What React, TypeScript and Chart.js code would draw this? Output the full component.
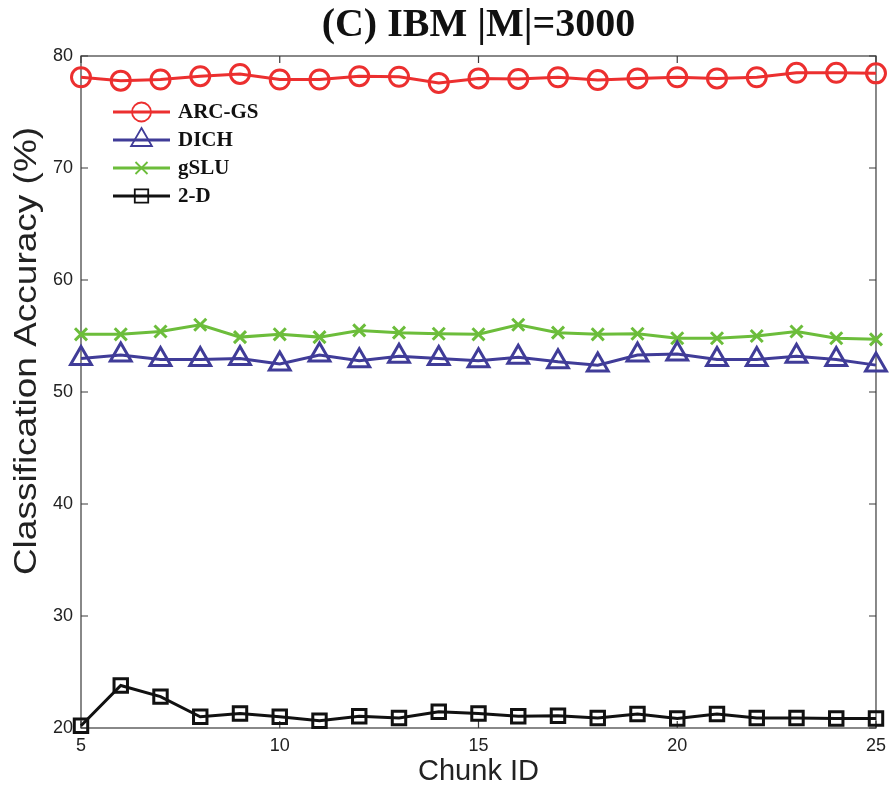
import React, { useEffect, useRef } from "react";
import { Chart, registerables } from "chart.js";
import { drawPoint } from "chart.js/helpers";

Chart.register(...registerables);

const TITLE = "(C) IBM |M|=3000";
const X_TITLE = "Chunk ID";
const Y_TITLE = "Classification Accuracy (%)";

const chunkIds = [5, 6, 7, 8, 9, 10, 11, 12, 13, 14, 15, 16, 17, 18, 19, 20, 21, 22, 23, 24, 25];
const xTicks = [5, 10, 15, 20, 25];
const yTicks = [20, 30, 40, 50, 60, 70, 80];

const arcGs = [78.1, 77.8, 77.9, 78.2, 78.4, 77.9, 77.9, 78.2, 78.15, 77.6, 78.0, 77.95, 78.1, 77.85, 78.0, 78.1, 78.0, 78.1, 78.5, 78.5, 78.45];
const dich = [53.0, 53.3, 52.9, 52.9, 53.0, 52.5, 53.3, 52.8, 53.2, 53.0, 52.8, 53.1, 52.7, 52.4, 53.3, 53.4, 52.9, 52.9, 53.2, 52.9, 52.4];
const gslu = [55.15, 55.15, 55.4, 56.0, 54.9, 55.15, 54.9, 55.5, 55.3, 55.2, 55.15, 56.0, 55.3, 55.15, 55.2, 54.8, 54.8, 55.0, 55.4, 54.8, 54.7];
const twoD = [20.2, 23.8, 22.8, 21.0, 21.3, 21.0, 20.65, 21.05, 20.9, 21.45, 21.3, 21.05, 21.1, 20.9, 21.25, 20.85, 21.25, 20.9, 20.9, 20.85, 20.85];

const seriesNames = ["ARC-GS", "DICH", "gSLU", "2-D"];
const seriesColors = ["#ec2f2f", "#403c98", "#6cbd3b", "#111111"];
const seriesStyles = ["circle", "triangle", "crossRot", "rect"];
const seriesRadius = [9.5, 12, 8.5, 9.5];
const seriesValues = [arcGs, dich, gslu, twoD];

const frame = {
  id: "frame",
  beforeDatasetsDraw(chart: any) {
    const { ctx, chartArea } = chart;
    const xs = chart.scales.x;
    const ys = chart.scales.y;
    ctx.save();
    ctx.strokeStyle = "#3a3a3a";
    ctx.lineWidth = 1.2;
    ctx.strokeRect(chartArea.left, chartArea.top, chartArea.right - chartArea.left, chartArea.bottom - chartArea.top);
    const L = 7;
    ctx.beginPath();
    xTicks.forEach((v) => {
      const px = xs.getPixelForValue(v);
      ctx.moveTo(px, chartArea.bottom);
      ctx.lineTo(px, chartArea.bottom - L);
      ctx.moveTo(px, chartArea.top);
      ctx.lineTo(px, chartArea.top + L);
    });
    yTicks.forEach((v) => {
      const py = ys.getPixelForValue(v);
      ctx.moveTo(chartArea.left, py);
      ctx.lineTo(chartArea.left + L, py);
      ctx.moveTo(chartArea.right, py);
      ctx.lineTo(chartArea.right - L, py);
    });
    ctx.stroke();
    ctx.restore();
  },
};

const titleAndLegend = {
  id: "titleAndLegend",
  afterDraw(chart: any) {
    const { ctx, chartArea } = chart;
    ctx.save();
    ctx.fillStyle = "#111";
    ctx.font = "bold 40px 'Liberation Serif', 'Times New Roman', serif";
    ctx.textAlign = "center";
    ctx.textBaseline = "middle";
    ctx.fillText(TITLE, (chartArea.left + chartArea.right) / 2, 26);

    // y axis title
    ctx.save();
    ctx.translate(27.5, 351);
    ctx.rotate(-Math.PI / 2);
    ctx.scale(1, 0.86);
    ctx.fillStyle = "#222";
    ctx.font = "37px 'Liberation Sans', Arial, sans-serif";
    ctx.textAlign = "center";
    ctx.textBaseline = "middle";
    ctx.fillText(Y_TITLE, 0, 0);
    ctx.restore();

    const x0 = chartArea.left + 32;
    const x1 = chartArea.left + 89;
    const rowY0 = chartArea.top + 56;
    const rowGap = 28;
    chart.data.datasets.forEach((ds: any, i: number) => {
      const y = rowY0 + i * rowGap;
      ctx.strokeStyle = ds.borderColor;
      ctx.lineWidth = 3;
      ctx.beginPath();
      ctx.moveTo(x0, y);
      ctx.lineTo(x1, y);
      ctx.stroke();
      ctx.lineWidth = 1.8;
      ctx.fillStyle = "rgba(0,0,0,0)";
      drawPoint(ctx, { pointStyle: ds.pointStyle, radius: ds.pointRadius, rotation: 0, borderWidth: 1.8 }, (x0 + x1) / 2, y);
      ctx.fillStyle = "#111";
      ctx.font = "bold 21px 'Liberation Serif', 'Times New Roman', serif";
      ctx.textAlign = "left";
      ctx.textBaseline = "middle";
      ctx.fillText(ds.label, x1 + 8, y + 1);
    });
    ctx.restore();
  },
};

export default function App() {
  const ref = useRef<HTMLCanvasElement | null>(null);
  useEffect(() => {
    if (!ref.current) return;
    const chart = new Chart(ref.current, {
      type: "line",
      data: {
        datasets: seriesNames.map((name, i) => ({
          label: name,
          data: chunkIds.map((c, j) => ({ x: c, y: seriesValues[i][j] })),
          borderColor: seriesColors[i],
          backgroundColor: "rgba(0,0,0,0)",
          pointBorderColor: seriesColors[i],
          pointBackgroundColor: "rgba(0,0,0,0)",
          pointStyle: seriesStyles[i] as any,
          pointRadius: seriesRadius[i],
          pointBorderWidth: 3,
          borderWidth: 3,
          tension: 0,
          clip: false as any,
        })),
      },
      options: {
        animation: false,
        responsive: true,
        maintainAspectRatio: false,
        layout: { padding: { top: 56, right: 15, left: 0, bottom: 0 } },
        plugins: {
          legend: { display: false },
          title: { display: false },
          tooltip: { enabled: false },
        },
        scales: {
          x: {
            type: "linear",
            min: 5,
            max: 25,
            afterFit: (s: any) => {
              s.height = 63;
            },
            afterBuildTicks: (s: any) => {
              s.ticks = xTicks.map((v) => ({ value: v }));
            },
            grid: { display: false, drawTicks: false },
            border: { display: false },
            ticks: {
              color: "#222",
              padding: 7,
              maxRotation: 0,
              font: { family: "'Liberation Sans', Arial, sans-serif", size: 18 },
            },
            title: {
              display: true,
              text: X_TITLE,
              color: "#222",
              font: { family: "'Liberation Sans', Arial, sans-serif", size: 29, lineHeight: 1.2 },
              padding: { top: 0, bottom: 2 },
            },
          },
          y: {
            type: "linear",
            min: 20,
            max: 80,
            afterFit: (s: any) => {
              s.width = 81;
            },
            afterBuildTicks: (s: any) => {
              s.ticks = yTicks.map((v) => ({ value: v }));
            },
            grid: { display: false, drawTicks: false },
            border: { display: false },
            ticks: {
              color: "#222",
              padding: 8,
              font: { family: "'Liberation Sans', Arial, sans-serif", size: 18 },
            },
            title: { display: false },
          },
        },
      },
      plugins: [frame, titleAndLegend],
    });
    return () => chart.destroy();
  }, []);
  return (
    <div style={{ position: "absolute", left: 0, top: 0, width: 893, height: 791, background: "#fff" }}>
      <canvas ref={ref} />
    </div>
  );
}
